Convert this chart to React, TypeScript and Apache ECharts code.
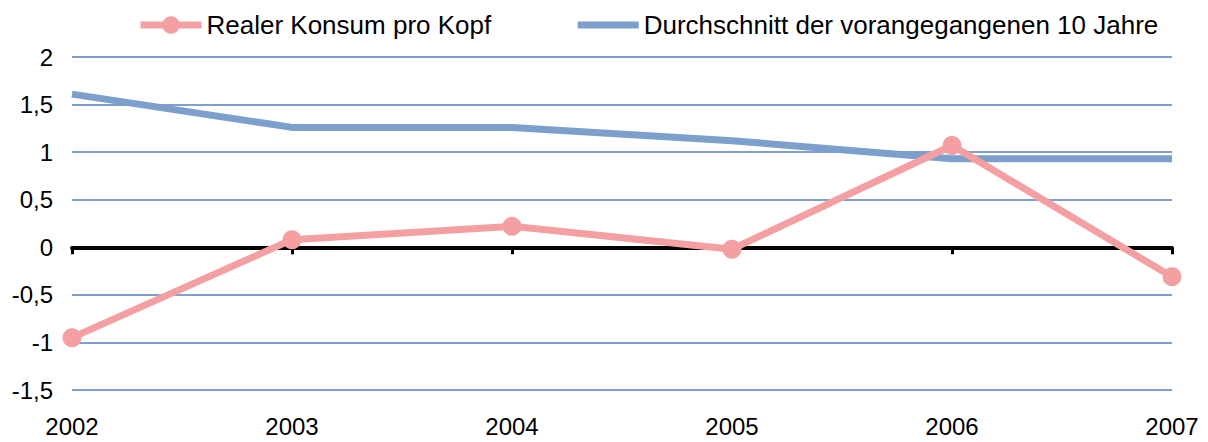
import React, { useEffect, useRef } from "react";
import * as echarts from "echarts";

const years = ["2002", "2003", "2004", "2005", "2006", "2007"];
const konsum = [-0.95, 0.08, 0.22, -0.02, 1.07, -0.31];
const durchschnitt = [1.61, 1.26, 1.26, 1.12, 0.93, 0.93];
const seriesNames = ["Realer Konsum pro Kopf", "Durchschnitt der vorangegangenen 10 Jahre"];

const FONT = "'Liberation Sans', Arial, sans-serif";
const PINK = "#F4A0A2";
const BLUE = "#7C9FCB";
const GRID = "#7F9FCF";

export default function App() {
  const ref = useRef<HTMLDivElement>(null);
  useEffect(() => {
    if (!ref.current) return;
    const chart = echarts.init(ref.current, null, { renderer: "svg" });
    chart.setOption({
      animation: false,
      backgroundColor: "#ffffff",
      textStyle: { fontFamily: FONT },
      legend: {
        left: 132,
        top: 7,
        itemWidth: 61,
        itemHeight: 22,
        itemGap: 83,
        lineStyle: { width: 7 },
        textStyle: { fontSize: 26, color: "#000", fontFamily: FONT },
        data: [
          { name: seriesNames[0] },
          { name: seriesNames[1], itemStyle: { opacity: 0 } },
        ],
      },
      grid: { left: 72, right: 36, top: 57, bottom: 52, containLabel: false },
      xAxis: [
        {
          type: "category",
          data: years,
          boundaryGap: false,
          axisLine: { onZero: true, lineStyle: { color: "#000", width: 4 } },
          axisTick: { show: true, length: 7, lineStyle: { color: "#000", width: 3 } },
          axisLabel: { show: false },
          splitLine: { show: false },
        },
        {
          type: "category",
          data: years,
          boundaryGap: false,
          position: "bottom",
          axisLine: { show: false, onZero: false },
          axisTick: { show: false },
          axisLabel: { margin: 24, fontSize: 24, color: "#000", fontFamily: FONT },
          splitLine: { show: false },
        },
      ],
      yAxis: {
        type: "value",
        min: -1.5,
        max: 2,
        interval: 0.5,
        axisLine: { show: false },
        axisTick: { show: false },
        axisLabel: {
          margin: 19,
          fontSize: 24,
          color: "#000",
          fontFamily: FONT,
          formatter: (v: number) => String(v).replace(".", ","),
        },
        splitLine: { lineStyle: { color: GRID, width: 2 } },
      },
      series: [
        {
          name: seriesNames[0],
          type: "line",
          xAxisIndex: 0,
          data: konsum,
          symbol: "circle",
          symbolSize: 19,
          lineStyle: { color: PINK, width: 7 },
          itemStyle: { color: PINK },
          z: 3,
        },
        {
          name: seriesNames[1],
          type: "line",
          xAxisIndex: 0,
          data: durchschnitt,
          symbol: "none",
          showSymbol: false,
          lineStyle: { color: BLUE, width: 7 },
          itemStyle: { color: BLUE },
          z: 2,
        },
      ],
    });
    return () => chart.dispose();
  }, []);
  return (
    <div
      ref={ref}
      style={{ position: "fixed", left: 0, top: 0, width: 1208, height: 442 }}
    />
  );
}
